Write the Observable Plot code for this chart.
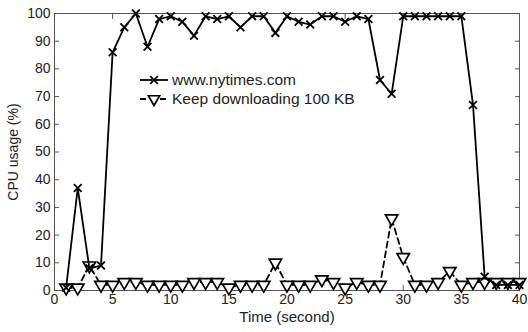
<!DOCTYPE html>
<html>
<head>
<meta charset="utf-8">
<script src="https://cdn.jsdelivr.net/npm/d3@7"></script>
<script src="https://cdn.jsdelivr.net/npm/@observablehq/plot@0.6"></script>
<style>
  html, body { margin: 0; padding: 0; background: #fff; }
  #chart svg { display: block; }
</style>
</head>
<body>
<div id="chart"></div>
<script>
const seconds = d3.range(1, 41);
const nytimes = [1,37,8,9,86,95,100,88,98,99,97,92,99,98,99,95,99,99,93,99,97,96,99,99,97,99,98,76,71,99,99,99,99,99,99,67,5,2,2,2];
const download = [1,1,9,2,2,3,3,2,2,2,2,3,3,3,1,2,2,2,10,2,2,2,4,3,1,3,2,2,26,12,2,2,3,7,2,3,3,3,3,3];
const seriesNames = ["www.nytimes.com", "Keep downloading 100 KB"];
const xTicks = [0,5,10,15,20,25,30,35,40];
const yTicks = [0,10,20,30,40,50,60,70,80,90,100];

const ny = seconds.map((t, i) => ({t, v: nytimes[i]}));
const dl = seconds.map((t, i) => ({t, v: download[i]}));

const font = "Liberation Sans, Arial, Helvetica, sans-serif";
const blank = () => "";

const plot = Plot.plot({
  width: 528,
  height: 332,
  marginLeft: 54,
  marginRight: 9,
  marginTop: 13,
  marginBottom: 42,
  style: {fontFamily: font, fontSize: "14px", color: "#222", background: "#fff"},
  x: {domain: [0, 40]},
  y: {domain: [0, 100]},
  marks: [
    Plot.frame({stroke: "#555", strokeWidth: 1}),
    Plot.axisX({ticks: xTicks, anchor: "bottom", tickSize: 0, tickPadding: 4, label: null, fontSize: 14}),
    Plot.axisX({ticks: [], anchor: "bottom", tickSize: 0, label: "Time (second)", labelAnchor: "center", labelArrow: "none", labelOffset: 31, fontSize: 15}),
    Plot.axisX({ticks: xTicks, anchor: "bottom", tickSize: -5, tickFormat: blank, label: null, stroke: "#555"}),
    Plot.axisX({ticks: xTicks, anchor: "top", tickSize: -5, tickFormat: blank, label: null, stroke: "#555"}),
    Plot.axisY({ticks: yTicks, anchor: "left", tickSize: 0, tickPadding: 4, label: "CPU usage (%)", labelAnchor: "center", labelArrow: "none", labelOffset: 46, fontSize: 14}),
    Plot.axisY({ticks: yTicks, anchor: "left", tickSize: -5, tickFormat: blank, label: null, stroke: "#555"}),
    Plot.axisY({ticks: yTicks, anchor: "right", tickSize: -5, tickFormat: blank, label: null, stroke: "#555"}),
    Plot.line(dl, {x: "t", y: "v", stroke: "#000", strokeWidth: 1.8, strokeDasharray: "6,4"}),
    Plot.dot(dl, {x: "t", y: "v", symbol: "triangle", rotate: 180, r: 4.6, stroke: "#000", strokeWidth: 1.7, fill: "#fff"}),
    Plot.line(ny, {x: "t", y: "v", stroke: "#000", strokeWidth: 1.8}),
    Plot.dot(ny, {x: "t", y: "v", symbol: "times", r: 3.6, stroke: "#000", strokeWidth: 1.8})
  ]
});

// Legend drawn inside the plot area
const svg = d3.select(plot);
const lg = svg.append("g").style("font-family", font).style("font-size", "15.5px").attr("fill", "#222").attr("text-anchor", "start");
const rows = [
  {y: 80, dash: null, sym: d3.symbolX},
  {y: 99, dash: "6,4", sym: d3.symbolTriangle}
];
rows.forEach((r, i) => {
  lg.append("line").attr("x1", 140).attr("x2", 168).attr("y1", r.y).attr("y2", r.y)
    .attr("stroke", "#000").attr("stroke-width", 1.8).attr("stroke-dasharray", r.dash);
  lg.append("path")
    .attr("transform", `translate(154,${r.y})` + (i === 1 ? " rotate(180)" : ""))
    .attr("stroke", "#000").attr("stroke-width", i === 1 ? 1.7 : 1.8)
    .attr("fill", i === 1 ? "#fff" : "none")
    .attr("d", d3.symbol(r.sym, i === 1 ? 55 : 40)());
  lg.append("text").attr("x", 172).attr("y", r.y).attr("dy", "0.35em").attr("text-anchor", "start")
    .style("font-size", "15.5px").text(seriesNames[i]);
});

document.getElementById("chart").append(plot);
</script>
</body>
</html>
